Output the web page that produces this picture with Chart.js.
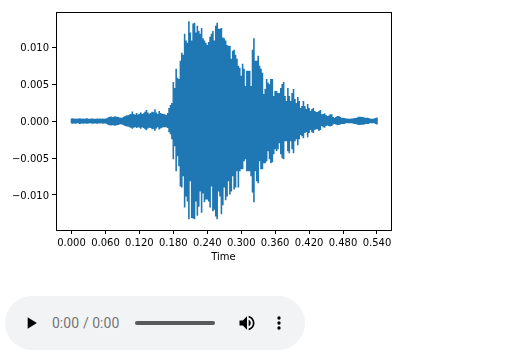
<!DOCTYPE html>
<html>
<head>
<meta charset="utf-8">
<title>Waveform</title>
<style>
  body { margin: 0; background: #fff; overflow: hidden; }
  #wrap { position: absolute; left: 0; top: 0; width: 508px; height: 270px; }
  audio { position: absolute; left: 5px; top: 296px; width: 300px; height: 54px; }
  audio::-webkit-media-controls-current-time-display,
  audio::-webkit-media-controls-time-remaining-display { color: #626262; }
</style>
</head>
<body>
<div id="wrap"><canvas id="wave"></canvas></div>
<audio id="player" controls></audio>
<script src="https://cdn.jsdelivr.net/npm/chart.js@4/dist/chart.umd.min.js"></script>
<script>
const times = [
  0.0000,0.0025,0.0050,0.0075,0.0100,0.0125,0.0150,0.0175,0.0200,0.0225,
  0.0250,0.0275,0.0300,0.0325,0.0350,0.0375,0.0400,0.0425,0.0450,0.0475,
  0.0500,0.0525,0.0550,0.0575,0.0600,0.0625,0.0650,0.0675,0.0700,0.0725,
  0.0750,0.0775,0.0800,0.0825,0.0850,0.0875,0.0900,0.0925,0.0950,0.0975,
  0.1000,0.1025,0.1050,0.1075,0.1100,0.1125,0.1150,0.1175,0.1200,0.1225,
  0.1250,0.1275,0.1300,0.1325,0.1350,0.1375,0.1400,0.1425,0.1450,0.1475,
  0.1500,0.1525,0.1550,0.1575,0.1600,0.1625,0.1650,0.1675,0.1700,0.1725,
  0.1750,0.1775,0.1800,0.1825,0.1850,0.1875,0.1900,0.1925,0.1950,0.1975,
  0.2000,0.2025,0.2050,0.2075,0.2100,0.2125,0.2150,0.2175,0.2200,0.2225,
  0.2250,0.2275,0.2300,0.2325,0.2350,0.2375,0.2400,0.2425,0.2450,0.2475,
  0.2500,0.2525,0.2550,0.2575,0.2600,0.2625,0.2650,0.2675,0.2700,0.2725,
  0.2750,0.2775,0.2800,0.2825,0.2850,0.2875,0.2900,0.2925,0.2950,0.2975,
  0.3000,0.3025,0.3050,0.3075,0.3100,0.3125,0.3150,0.3175,0.3200,0.3225,
  0.3250,0.3275,0.3300,0.3325,0.3350,0.3375,0.3400,0.3425,0.3450,0.3475,
  0.3500,0.3525,0.3550,0.3575,0.3600,0.3625,0.3650,0.3675,0.3700,0.3725,
  0.3750,0.3775,0.3800,0.3825,0.3850,0.3875,0.3900,0.3925,0.3950,0.3975,
  0.4000,0.4025,0.4050,0.4075,0.4100,0.4125,0.4150,0.4175,0.4200,0.4225,
  0.4250,0.4275,0.4300,0.4325,0.4350,0.4375,0.4400,0.4425,0.4450,0.4475,
  0.4500,0.4525,0.4550,0.4575,0.4600,0.4625,0.4650,0.4675,0.4700,0.4725,
  0.4750,0.4775,0.4800,0.4825,0.4850,0.4875,0.4900,0.4925,0.4950,0.4975,
  0.5000,0.5025,0.5050,0.5075,0.5100,0.5125,0.5150,0.5175,0.5200,0.5225,
  0.5250,0.5275,0.5300,0.5325,0.5350,0.5375,0.5400
];

// top of the envelope in each time slot
const upper = [
  .00034,.00038,.00032,.00036,.00030,.00034,.00038,.00033,.00036,.00031,
  .00034,.00037,.00033,.00030,.00034,.00036,.00033,.00031,.00036,.00033,
  .00034,.00031,.00036,.00033,.00034,.00038,.00052,.00058,.00062,.00056,
  .00060,.00064,.00058,.00054,.00048,.00044,.00050,.00060,.00068,.00078,
  .00080,.00088,.00095,.00128,.00095,.00085,.00110,.00090,.00100,.00115,
  .00095,.00105,.00125,.00150,.00115,.00100,.00110,.00125,.00120,.00160,
  .00115,.00095,.00135,.00110,.00100,.00095,.00091,.00082,.00109,.00177,
  .00218,.00245,.00530,.00449,.00707,.00585,.00571,.00816,.00925,.00898,
  .0118,.0109,.0106,.0135,.0120,.0109,.0132,.0133,.0120,.0129,
  .0122,.0118,.0126,.0112,.0109,.0106,.0103,.0107,.0114,.0118,
  .0122,.0109,.0129,.0133,.0125,.0125,.0126,.0113,.0112,.0109,
  .0103,.0102,.0102,.00843,.00952,.00966,.00898,.00843,.00748,.00720,
  .00612,.00775,.00707,.00476,.00680,.00680,.00680,.00476,.00966,.0112,
  .00816,.00816,.00884,.00748,.00707,.00653,.00367,.00435,.00571,.00517,
  .00499,.00571,.00571,.00340,.00408,.00408,.00380,.00380,.00449,.00503,
  .00530,.00340,.00272,.00449,.00340,.00272,.00380,.00435,.00299,.00245,
  .00326,.00272,.00177,.00204,.00272,.00204,.00163,.00231,.00177,.00136,
  .00163,.00177,.00136,.00122,.00122,.00136,.00150,.00091,.00095,.00105,
  .00082,.00068,.00075,.00091,.00091,.00054,.00045,.00054,.00068,.00068,
  .00054,.00045,.00045,.00041,.00034,.00034,.00031,.00031,.00034,.00034,
  .00041,.00041,.00048,.00058,.00058,.00054,.00054,.00048,.00045,.00045,
  .00041,.00034,.00031,.00031,.00034,.00041,.00050
];

// bottom of the envelope in each time slot
const lower = [
  -.00034,-.00037,-.00033,-.00036,-.00030,-.00034,-.00038,-.00032,-.00036,-.00033,
  -.00033,-.00036,-.00032,-.00030,-.00033,-.00036,-.00032,-.00033,-.00035,-.00032,
  -.00033,-.00030,-.00035,-.00032,-.00033,-.00038,-.00052,-.00057,-.00061,-.00056,
  -.00059,-.00063,-.00057,-.00053,-.00047,-.00043,-.00049,-.00058,-.00066,-.00072,
  -.00075,-.00085,-.00090,-.00105,-.00090,-.00080,-.00095,-.00085,-.00090,-.00105,
  -.00085,-.00095,-.00110,-.00125,-.00100,-.00090,-.00095,-.00110,-.00105,-.00130,
  -.00100,-.00085,-.00115,-.00100,-.00090,-.00085,-.00082,-.00082,-.00095,-.00150,
  -.00177,-.00245,-.00517,-.00340,-.00680,-.00476,-.00612,-.00884,-.00898,-.00748,
  -.0117,-.0102,-.0109,-.0133,-.00816,-.0131,-.0132,-.0133,-.0109,-.0128,
  -.0116,-.00952,-.0124,-.00979,-.0110,-.0106,-.0106,-.0109,-.0117,-.00884,
  -.0122,-.0120,-.0129,-.0133,-.00952,-.0102,-.0126,-.0114,-.00898,-.0107,
  -.0102,-.00816,-.00993,-.00952,-.00748,-.00925,-.00898,-.00680,-.00898,-.00680,
  -.00653,-.00653,-.00544,-.00517,-.00680,-.00680,-.00680,-.00748,-.00966,-.0110,
  -.00680,-.00816,-.00843,-.00544,-.00653,-.00653,-.00571,-.00571,-.00544,-.00408,
  -.00517,-.00571,-.00558,-.00449,-.00380,-.00408,-.00380,-.00299,-.00449,-.00503,
  -.00517,-.00272,-.00272,-.00408,-.00435,-.00272,-.00380,-.00435,-.00272,-.00245,
  -.00326,-.00245,-.00190,-.00204,-.00231,-.00163,-.00150,-.00218,-.00163,-.00122,
  -.00150,-.00163,-.00122,-.00109,-.00109,-.00136,-.00122,-.00068,-.00082,-.00091,
  -.00068,-.00061,-.00068,-.00075,-.00068,-.00048,-.00041,-.00048,-.00058,-.00054,
  -.00048,-.00041,-.00041,-.00038,-.00031,-.00031,-.00029,-.00029,-.00031,-.00034,
  -.00038,-.00038,-.00045,-.00054,-.00054,-.00050,-.00050,-.00045,-.00041,-.00041,
  -.00038,-.00031,-.00029,-.00029,-.00031,-.00038,-.00048
];

const xTicks = [0, 0.06, 0.12, 0.18, 0.24, 0.30, 0.36, 0.42, 0.48, 0.54];
const yTicks = [-0.010, -0.005, 0, 0.005, 0.010];

// each slot is one vertical stroke that starts and ends on the zero line
const points = times.flatMap((t, i) => [
  { x: t, y: 0 },
  { x: t, y: upper[i] },
  { x: t, y: lower[i] },
  { x: t, y: 0 },
]);

const frame = {
  id: "frame",
  afterDraw(chart) {
    const a = chart.chartArea;
    const c = chart.ctx;
    c.save();
    c.strokeStyle = "#000";
    c.lineWidth = 1;
    c.strokeRect(Math.round(a.left) + 0.5, Math.round(a.top) + 0.5, Math.round(a.width), Math.round(a.height));
    c.restore();
  },
};

const font = { family: "'DejaVu Sans'", size: 10 };

// a few silent samples, so the player counts as loaded but still reads 0:00
function silentWav() {
  const le = (v, n) => Array.from({ length: n }, (_, k) => String.fromCharCode((v >> (8 * k)) & 255)).join("");
  const body = "\x80".repeat(8);
  return "data:audio/wav;base64," + btoa(
    "RIFF" + le(36 + body.length, 4) + "WAVEfmt " + le(16, 4) + le(1, 2) + le(1, 2) +
    le(8000, 4) + le(8000, 4) + le(1, 2) + le(8, 2) + "data" + le(body.length, 4) + body);
}

document.addEventListener("DOMContentLoaded", () => {
  document.getElementById("player").src = silentWav();

  new Chart(document.getElementById("wave").getContext("2d"), {
    type: "line",
    data: {
      datasets: [{
        data: points,
        borderColor: "#1f77b4",
        borderWidth: 1.6,
        borderJoinStyle: "bevel",
        pointRadius: 0,
        tension: 0,
      }],
    },
    plugins: [frame],
    options: {
      responsive: true,
      maintainAspectRatio: false,
      animation: false,
      layout: { padding: { left: 0, right: 117, top: 12, bottom: 7 } },
      plugins: { legend: { display: false }, tooltip: { enabled: false } },
      scales: {
        x: {
          type: "linear",
          min: -0.0274,
          max: 0.5648,
          afterBuildTicks: (s) => { s.ticks = xTicks.map((v) => ({ value: v })); },
          afterFit: (s) => { s.height = 33; },
          ticks: {
            color: "#000",
            font: font,
            padding: 3,
            maxRotation: 0,
            autoSkip: false,
            callback: (v) => v.toFixed(3),
          },
          grid: { drawOnChartArea: false, tickLength: 4, tickColor: "#000", tickWidth: 1 },
          border: { color: "#000" },
          title: { display: true, text: "Time", color: "#000", font: font, padding: { top: 2, bottom: 0 } },
        },
        y: {
          type: "linear",
          min: -0.01474,
          max: 0.01476,
          afterBuildTicks: (s) => { s.ticks = yTicks.map((v) => ({ value: v })); },
          afterFit: (s) => { s.width = 56; },
          ticks: {
            color: "#000",
            font: font,
            padding: 3,
            labelOffset: 1,
            autoSkip: false,
            callback: (v) => v.toFixed(3).replace("-", "\u2212"),
          },
          grid: { drawOnChartArea: false, tickLength: 4, tickColor: "#000", tickWidth: 1 },
          border: { color: "#000" },
        },
      },
    },
  });
});
</script>
</body>
</html>
